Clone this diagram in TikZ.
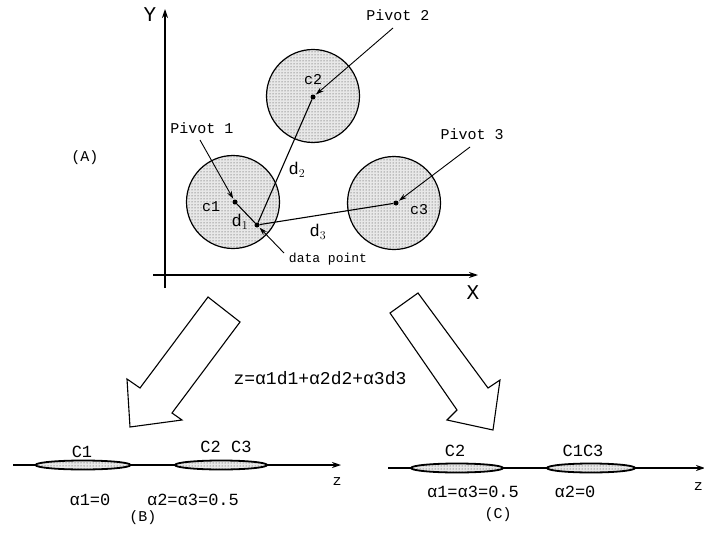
\documentclass[tikz,border=0pt]{standalone}
\usepackage{fontspec}
\setmonofont{Liberation Mono}
\usetikzlibrary{arrows.meta,patterns,shapes.geometric}

\begin{document}
\begin{tikzpicture}[
    x=1pt, y=-1pt,
    every node/.style={font=\ttfamily\fontsize{15}{16}\selectfont, inner sep=1pt},
    cluster/.style={circle, draw, line width=1.2pt, preaction={fill=gray!18},
      pattern=dots, pattern color=black!80, minimum size=93pt},
    flatcluster/.style={ellipse, draw, line width=1.8pt, preaction={fill=gray!18},
      pattern=dots, pattern color=black!80, minimum height=9pt},
    axisline/.style={line width=1.1pt, -{Stealth[length=9pt, width=6pt]}},
    pointer/.style={line width=0.9pt, -{Stealth[length=8pt, width=5pt]}, shorten >=1pt},
    dist/.style={line width=1.1pt},
    pivotdot/.style={circle, fill, inner sep=0pt, minimum size=5pt},
    bigarrow/.style={draw, line width=1.1pt, fill=white, line join=miter},
    axislabel/.style={font=\ttfamily\fontsize{21}{21}\selectfont},
    alphalab/.style={font=\ttfamily\fontsize{17}{18}\selectfont}
  ]
    \useasboundingbox (0,0) rectangle (704,538);

    % (A): feature space
    \coordinate (ybot) at (165,288);
    \coordinate (ytop) at (165,9);
    \coordinate (xleft) at (153,275);
    \coordinate (xright) at (478,275);
    \draw[axisline] (ybot) -- (ytop);
    \draw[axisline] (xleft) -- (xright);
    \node[axislabel] (ylab) at (150,15) {Y};
    \node[axislabel] (xlab) at (473,293) {X};
    \node (alab) at (85,158) {(A)};

    \node[cluster] (k1) at (233,202) {};
    \node[cluster] (k2) at (313,96) {};
    \node[cluster] (k3) at (394,203) {};

    \node[pivotdot] (c1) at (235,202) {};
    \node[pivotdot] (c2) at (313,97) {};
    \node[pivotdot] (c3) at (396,203) {};
    \node[pivotdot] (dp) at (257,225) {};

    \node (c1lab) at (211,207) {c1};
    \node (c2lab) at (313,80) {c2};
    \node (c3lab) at (419,210) {c3};

    % distances to the pivots
    \draw[dist] (dp) -- (c1);
    \draw[dist] (dp) -- (c2);
    \draw[dist] (dp) -- (c3);
    \node[alphalab] (d1lab) at (240,222) {d$_1$};
    \node[alphalab] (d2lab) at (297,170) {d$_2$};
    \node[alphalab] (d3lab) at (318,232) {d$_3$};

    % labels with pointers
    \node (piv1) at (202,128) {Pivot 1};
    \node (piv2) at (398,15) {Pivot 2};
    \node (piv3) at (472,134) {Pivot 3};
    \node[font=\ttfamily\fontsize{13}{14}\selectfont] (dplab) at (328,259) {data point};
    \coordinate (p1from) at (200,140);
    \coordinate (p2from) at (393,28);
    \coordinate (p3from) at (470,147);
    \coordinate (dpfrom) at (284,253);
    \draw[pointer] (p1from) -- (c1);
    \draw[pointer] (p2from) -- (c2);
    \draw[pointer] (p3from) -- (c3);
    \draw[pointer] (dpfrom) -- (dp);

    % projection arrows
    \draw[bigarrow] (208,297) -- (240,322) -- (172,413) -- (182,420) -- (130,427)
      -- (127,379) -- (140,388) -- cycle;
    \draw[bigarrow] (390,313) -- (418,293) -- (488,388) -- (500,380) -- (493,430)
      -- (447,420) -- (457,410) -- cycle;
    \node[font=\ttfamily\fontsize{18}{19}\selectfont] (formula) at (320,378) {z=α1d1+α2d2+α3d3};

    % (B)
    \coordinate (zbl) at (13,465);
    \coordinate (zbr) at (341,465);
    \draw[axisline] (zbl) -- (zbr);
    \node[flatcluster, minimum width=95pt] (b1) at (83,465) {};
    \node[flatcluster, minimum width=92pt] (b23) at (221,465) {};
    \node[alphalab] (b1lab) at (82,452) {C1};
    \node[alphalab] (b23lab) at (226,447) {C2 C3};
    \node (zblab) at (337,482) {z};
    \node[alphalab] (ba1) at (90,500) {α1=0};
    \node[alphalab] (ba23) at (193,500) {α2=α3=0.5};
    \node (blab) at (143,518) {(B)};

    % (C)
    \coordinate (zcl) at (388,468);
    \coordinate (zcr) at (705,468);
    \draw[axisline] (zcl) -- (zcr);
    \node[flatcluster, minimum width=92pt] (g2) at (457,468) {};
    \node[flatcluster, minimum width=88pt] (g13) at (591,468) {};
    \node[alphalab] (g2lab) at (455,451) {C2};
    \node[alphalab] (g13lab) at (583,451) {C1C3};
    \node[anchor=east] (zclab) at (704,487) {z};
    \node[alphalab] (ga13) at (473,492) {α1=α3=0.5};
    \node[alphalab] (ga2) at (575,492) {α2=0};
    \node (clab) at (498,515) {(C)};
\end{tikzpicture}
\end{document}
